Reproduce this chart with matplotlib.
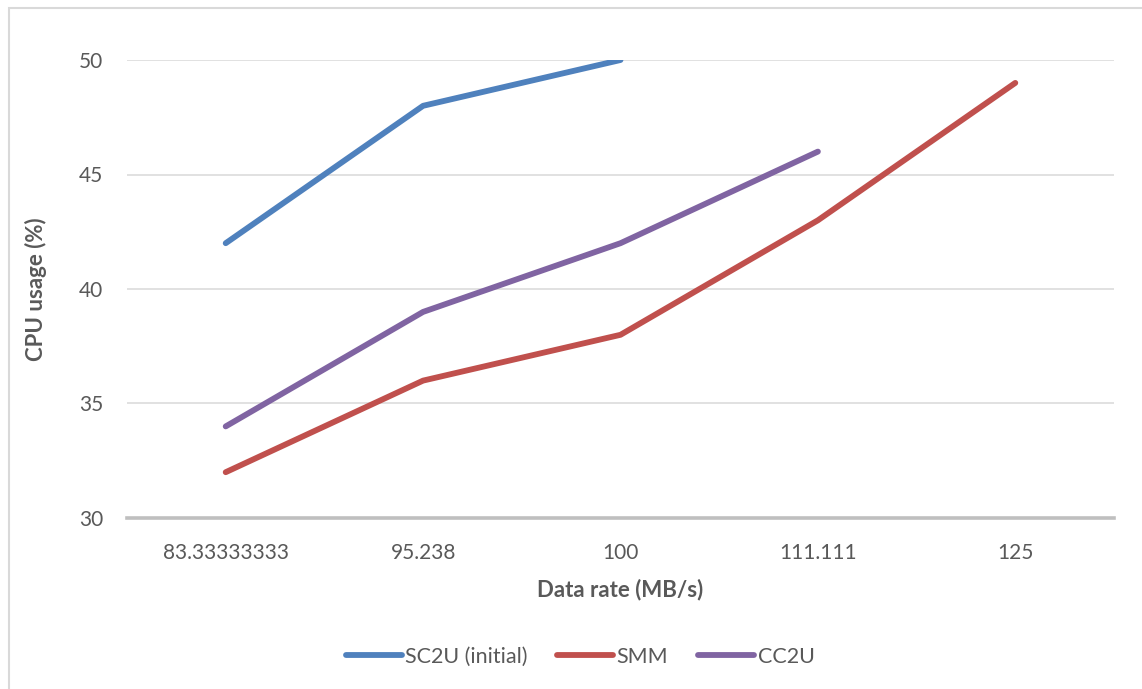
import numpy as np
import matplotlib
matplotlib.use("Agg")
import matplotlib.pyplot as plt
from matplotlib.patches import Rectangle

# ------------------------------
# DATA
# ------------------------------

categories = ["83.33333333", "95.238", "100", "111.111", "125"]
sc2u = [42, 48, 50, np.nan, np.nan]
smm = [32, 36, 38, 43, 49]
cc2u = [34, 39, 42, 46, np.nan]

series_names = ["SC2U (initial)", "SMM", "CC2U"]
y_ticks = [30, 35, 40, 45, 50]

# ------------------------------
# STYLE
# ------------------------------

plt.rcParams['font.family'] = ['Lato', 'DejaVu Sans']
TEXT = "#595959"
colors = ["#4F81BD", "#C0504D", "#8064A2"]

W, H = 1142, 689
fig = plt.figure(figsize=(W / 100, H / 100), dpi=100)

# chart area frame (open to the right / bottom like the crop)
fig.patches.append(Rectangle((9 / W, -0.1), 1.2, 1 - 8 / H + 0.1,
                             transform=fig.transFigure, fill=False,
                             edgecolor="#D9D9D9", linewidth=1.5))

ax = fig.add_axes([127 / W, 1 - 518 / H, (1114 - 127) / W, (518 - 60) / H])

x = np.arange(len(categories))
for vals, name, c in zip([sc2u, smm, cc2u], series_names, colors):
    ax.plot(x, vals, color=c, linewidth=4.2, label=name,
            solid_capstyle="round", solid_joinstyle="round", zorder=3)

ax.set_xlim(-0.5, len(categories) - 0.5)
ax.set_ylim(30, 50)
ax.set_xticks(x)
ax.set_xticklabels(categories)
ax.set_yticks(y_ticks)

ax.grid(axis="y", color="#D9D9D9", linewidth=1.1, zorder=0)
ax.set_axisbelow(True)
for s in ["top", "right", "left"]:
    ax.spines[s].set_visible(False)
ax.spines["bottom"].set_color("#BFBFBF")
ax.spines["bottom"].set_linewidth(2.6)
ax.spines["bottom"].set_zorder(2)

ax.tick_params(axis="both", length=0, labelsize=15, labelcolor=TEXT)
ax.tick_params(axis="y", pad=17)
ax.tick_params(axis="x", pad=18)

ax.set_xlabel("Data rate (MB/s)", fontsize=16, fontweight="bold", color=TEXT)
ax.xaxis.set_label_coords(0.5, -(590 - 518) / 458, transform=ax.transAxes)
ax.xaxis.label.set_va("center")
ax.set_ylabel("CPU usage (%)", fontsize=16, fontweight="bold", color=TEXT)
ax.yaxis.set_label_coords((36 - 127) / 987, 0.5)
ax.yaxis.label.set_va("center")

fig.legend(loc="center", bbox_to_anchor=(580 / W, 1 - 657 / H), ncol=3,
           frameon=False, fontsize=15.5, labelcolor=TEXT,
           handlelength=2.6, handletextpad=0.15, columnspacing=1.4)

fig.savefig("out.png", dpi=100, facecolor="white")
